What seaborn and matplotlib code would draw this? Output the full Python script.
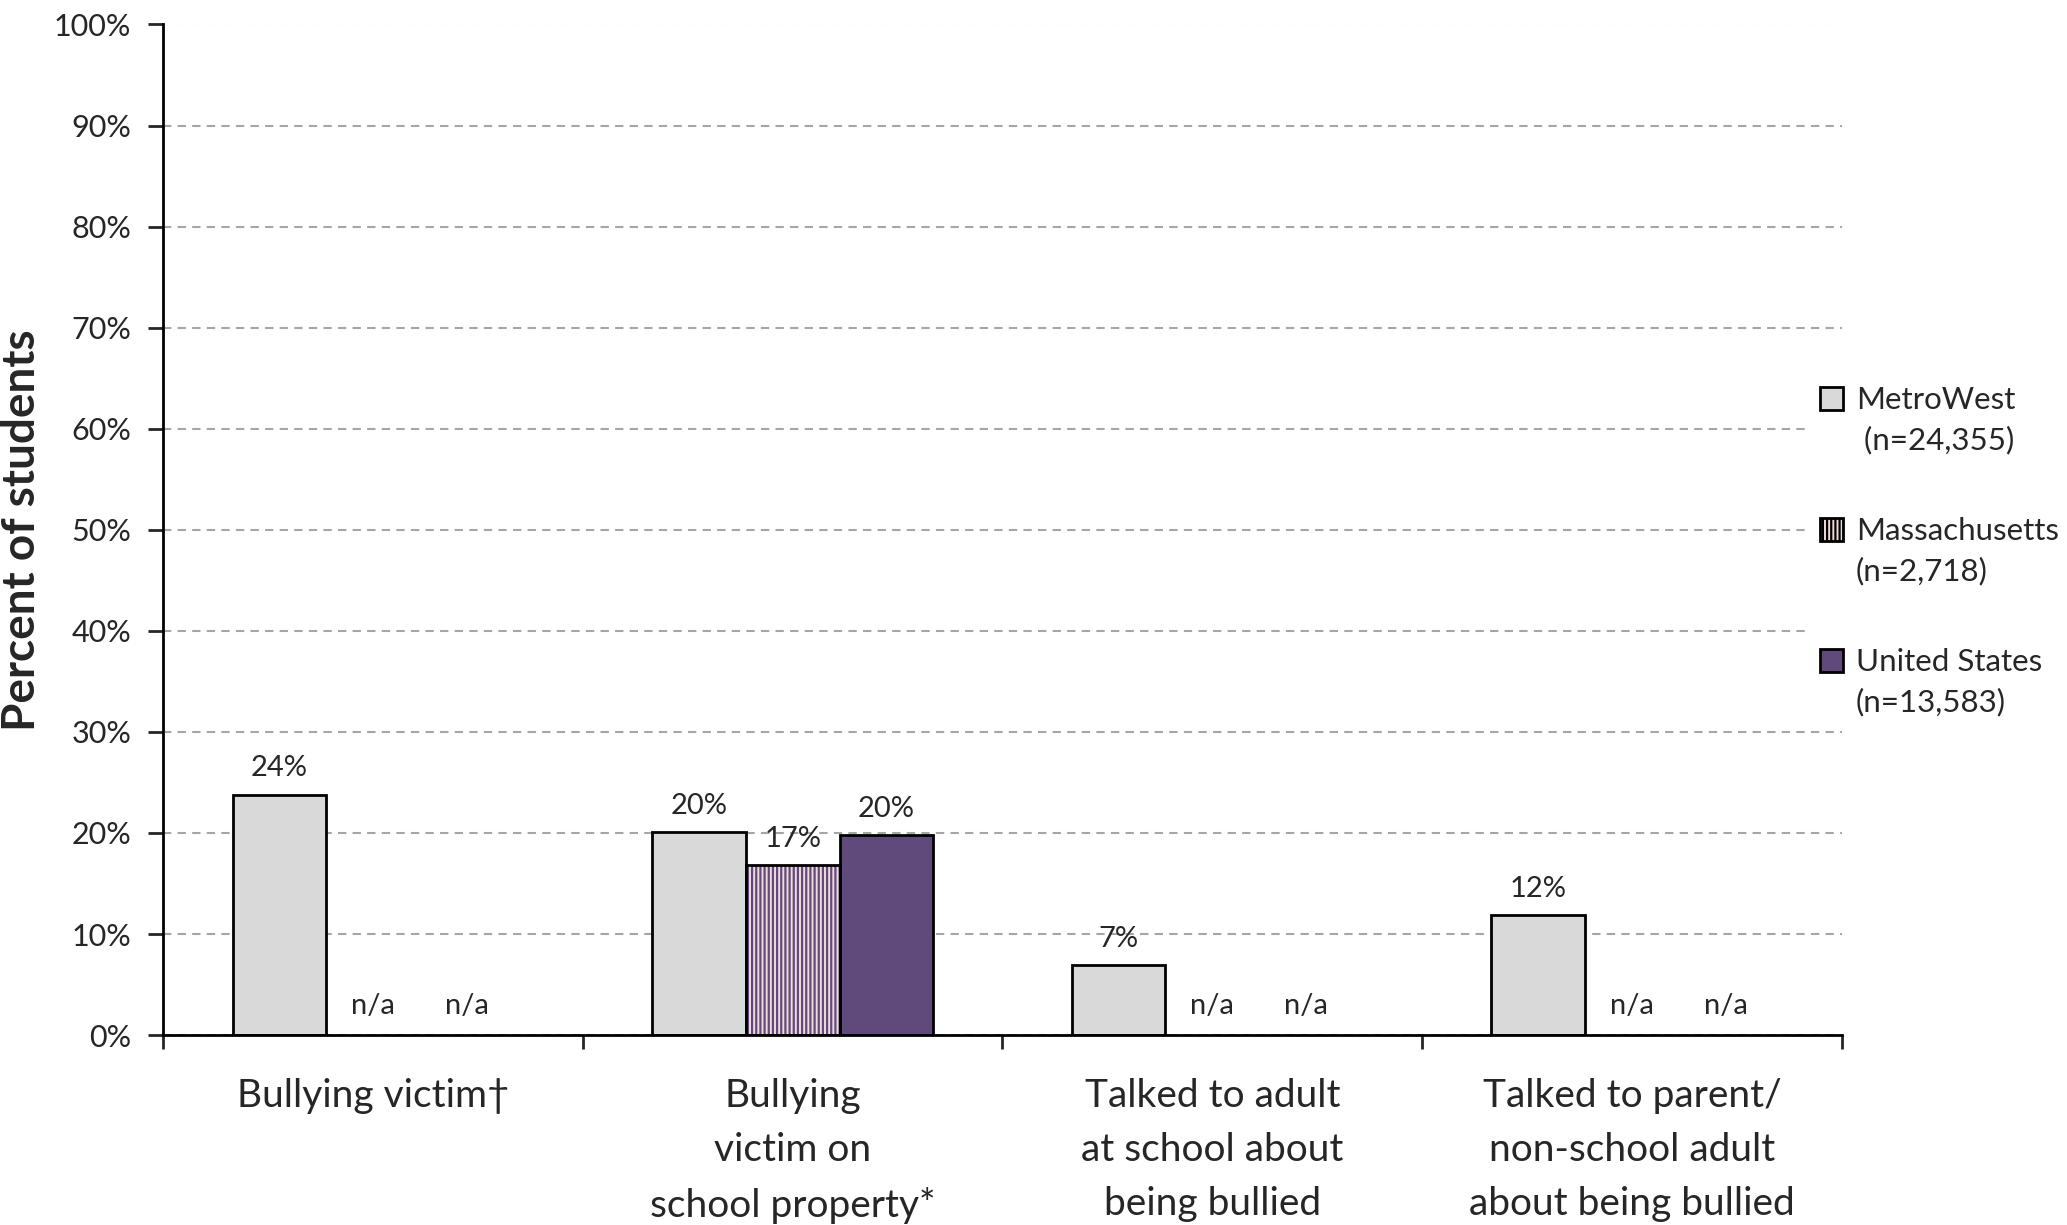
import matplotlib
matplotlib.use("Agg")
import matplotlib.pyplot as plt
from matplotlib.patches import Rectangle
from matplotlib.legend_handler import HandlerPatch
import seaborn as sns
import pandas as pd
import numpy as np

# data
categories = [
    "Bullying victim\u2020",
    "Bullying\nvictim on\nschool property*",
    "Talked to adult\nat school about\nbeing bullied",
    "Talked to parent/\nnon-school adult\nabout being bullied",
]
groups = ["MetroWest\n (n=24,355)", "Massachusetts\n(n=2,718)", "United States\n(n=13,583)"]
metrowest = [23.8, 20.1, 6.9, 11.9]
massachusetts = [np.nan, 16.8, np.nan, np.nan]
united_states = [np.nan, 19.8, np.nan, np.nan]
value_labels = [["24%", "20%", "7%", "12%"],
                ["n/a", "17%", "n/a", "n/a"],
                ["n/a", "20%", "n/a", "n/a"]]
y_ticks = list(range(0, 101, 10))

colors = ["#D9D9D9", "#F2DCDB", "#604A7B"]
purple = "#604A7B"

sns.set_style("white")
plt.rcParams["font.family"] = ["Lato", "DejaVu Sans"]
plt.rcParams["hatch.linewidth"] = 1.6

rows = []
for g, vals in zip(groups, [metrowest, massachusetts, united_states]):
    for c, v in zip(categories, vals):
        rows.append({"category": c, "group": g, "value": 0.0 if np.isnan(v) else v, "na": np.isnan(v)})
df = pd.DataFrame(rows)

fig = plt.figure(figsize=(20.67, 12.25), dpi=100)
ax = fig.add_axes([0.079, 0.155, 0.812, 0.825])

sns.barplot(data=df, x="category", y="value", hue="group", palette=colors,
            width=0.67, gap=0, edgecolor="black", linewidth=2, ax=ax,
            saturation=1, legend=True)

for gi, cont in enumerate(ax.containers):
    na_flags = df[df["group"] == groups[gi]]["na"].tolist()
    for ci, p in enumerate(cont.patches):
        cx = p.get_x() + p.get_width() / 2
        lab = value_labels[gi][ci]
        if na_flags[ci]:
            p.set_visible(False)
            ax.text(cx, 1.6, lab, ha="center", va="bottom", fontsize=21)
            continue
        if gi == 1:
            p.set_hatch("||||")
            p.set_edgecolor(purple)
            p.set_linewidth(0)
            ax.add_patch(Rectangle((p.get_x(), 0), p.get_width(), p.get_height(),
                                   fill=False, edgecolor="black", linewidth=2, zorder=p.get_zorder() + 0.1))
        ax.text(cx, p.get_height() + 1.3, lab, ha="center", va="bottom", fontsize=21)

ax.set_ylim(0, 100)
ax.set_xlim(-0.5, 3.5)
ax.set_yticks(y_ticks)
ax.set_yticklabels([f"{t}%" for t in y_ticks], fontsize=22)
ax.set_xticks(np.arange(-0.5, 4, 1))
ax.set_xticklabels([""] * 5)
ax.set_xticks(range(4), minor=True)
ax.set_xticklabels(categories, minor=True, fontsize=28, linespacing=1.62)
ax.tick_params(axis="x", which="minor", length=0, pad=31)
ax.tick_params(axis="x", which="major", length=10, width=2, direction="out", bottom=True)
ax.tick_params(axis="y", length=11, width=2, direction="out", left=True, pad=12)

ax.grid(axis="y", linestyle=(0, (4, 3)), color="#A6A6A6", linewidth=1.5)
ax.set_axisbelow(True)
for s in ["top", "right"]:
    ax.spines[s].set_visible(False)
for s in ["left", "bottom"]:
    ax.spines[s].set_color("black")
    ax.spines[s].set_linewidth(2)

ax.set_xlabel("")
ax.set_ylabel("Percent of students", fontsize=33, fontweight="bold", labelpad=8)


def top_aligned(legend, orig_handle, xdescent, ydescent, width, height, fontsize):
    return Rectangle((-xdescent, -ydescent + 0.72 * fontsize), width, height)


handles, labels = ax.get_legend_handles_labels()
handles[1].set_hatch("||||")
handles[1].set_edgecolor("black")
leg = ax.legend(handles, labels, loc="center left", bbox_to_anchor=(0.972, 0.479),
                frameon=True, facecolor="white", edgecolor="none", framealpha=1,
                fontsize=22.5, handlelength=0.75, handleheight=0.75, borderpad=0.3,
                handletextpad=0.4, labelspacing=2.0,
                handler_map={h: HandlerPatch(patch_func=top_aligned) for h in handles})
leg.get_frame().set_boxstyle("square", pad=0)
for t in leg.get_texts():
    t.set_linespacing(1.5)

fig.savefig("out.png", dpi=100)
